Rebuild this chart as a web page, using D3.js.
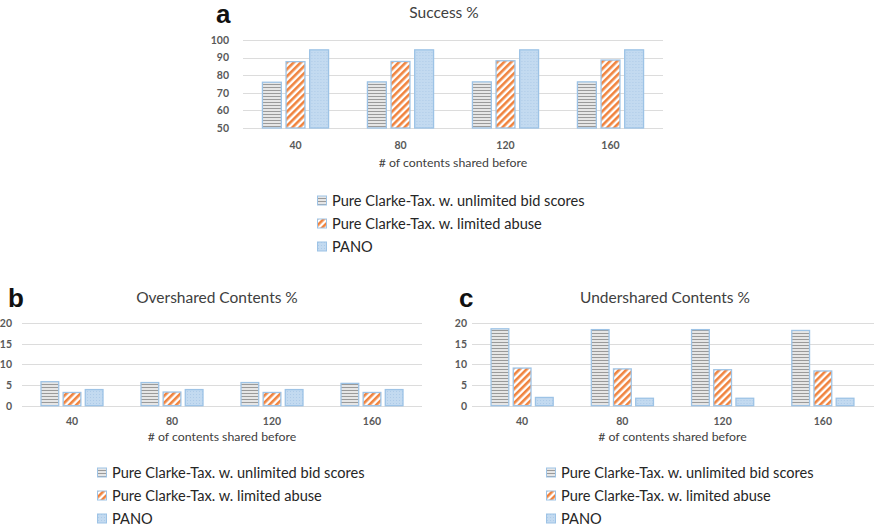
<!DOCTYPE html>
<html>
<head>
<meta charset="utf-8">
<script src="https://cdn.jsdelivr.net/npm/d3@7"></script>
<style>
  body { margin: 0; background: #fff; }
  svg { display: block; }
  text { font-family: Lato, "Open Sans", sans-serif; }
</style>
</head>
<body>
<script>
// categories and series
var categories = ["40", "80", "120", "160"];
var seriesNames = [
    "Pure Clarke-Tax. w. unlimited bid scores",
    "Pure Clarke-Tax. w. limited abuse",
    "PANO"
];

// values, one array per series
var successUnlimited = [76, 76.2, 76.2, 76.2];
var successLimited = [87.7, 87.8, 88.2, 88.6];
var successPano = [94.4, 94.4, 94.4, 94.4];

var overUnlimited = [5.8, 5.6, 5.6, 5.4];
var overLimited = [3.2, 3.3, 3.2, 3.2];
var overPano = [3.9, 3.9, 3.9, 3.9];

var underUnlimited = [18.6, 18.4, 18.4, 18.2];
var underLimited = [9.1, 8.9, 8.7, 8.4];
var underPano = [2.0, 1.8, 1.8, 1.8];

var successTicks = [50, 60, 70, 80, 90, 100];
var contentTicks = [0, 5, 10, 15, 20];

window.onload = () => {
    var svg = d3.select("body").append("svg")
        .attr("width", 874)
        .attr("height", 531);

    var defs = svg.append("defs");

    // horizontal stripes
    var p1 = defs.append("pattern")
        .attr("id", "patGray")
        .attr("patternUnits", "userSpaceOnUse")
        .attr("width", 4).attr("height", 3);
    p1.append("rect").attr("width", 4).attr("height", 3).attr("fill", "#e6e6e6");
    p1.append("rect").attr("y", 0).attr("width", 4).attr("height", 1).attr("fill", "#9a9a9a");

    // diagonal stripes
    var p2 = defs.append("pattern")
        .attr("id", "patOrange")
        .attr("patternUnits", "userSpaceOnUse")
        .attr("width", 5).attr("height", 5)
        .attr("patternTransform", "rotate(45)");
    p2.append("rect").attr("width", 5).attr("height", 5).attr("fill", "#fff");
    p2.append("rect").attr("width", 2.6).attr("height", 5).attr("fill", "#f0833e");

    // light blue with small dots
    var p3 = defs.append("pattern")
        .attr("id", "patBlue")
        .attr("patternUnits", "userSpaceOnUse")
        .attr("width", 3).attr("height", 3);
    p3.append("rect").attr("width", 3).attr("height", 3).attr("fill", "#c3daf0");
    p3.append("rect").attr("x", 1).attr("y", 1).attr("width", 1).attr("height", 1).attr("fill", "#aecbe8");

    var fills = ["url(#patGray)", "url(#patOrange)", "url(#patBlue)"];
    var edge = "#9dc3e6";

    function drawPanel(cfg) {
        var x0 = d3.scaleBand()
            .domain(categories)
            .range([cfg.left, cfg.right])
            .paddingInner(cfg.pad)
            .paddingOuter(cfg.pad / 2);
        var x1 = d3.scaleBand()
            .domain(d3.range(seriesNames.length))
            .range([0, x0.bandwidth()])
            .paddingInner(0.2);
        var y = d3.scaleLinear()
            .domain(cfg.domain)
            .range([cfg.bottom, cfg.top]);

        var g = svg.append("g");

        // gridlines
        g.append("g")
            .selectAll("line")
            .data(cfg.ticks)
            .enter()
            .append("line")
            .attr("x1", cfg.left)
            .attr("x2", cfg.gridRight || cfg.right)
            .attr("y1", d => Math.round(y(d)) + 0.5)
            .attr("y2", d => Math.round(y(d)) + 0.5)
            .attr("stroke", "#dcdcdc")
            .attr("stroke-width", 1);

        // y tick labels
        var yAxis = d3.axisLeft(y).tickValues(cfg.ticks).tickSize(0).tickPadding(cfg.left - cfg.labelRight);
        var ya = g.append("g")
            .attr("transform", "translate(" + cfg.left + ",0)")
            .call(yAxis);
        ya.select(".domain").remove();
        ya.selectAll("text")
            .style("font-family", "Lato, sans-serif")
            .style("font-size", "10.5px")
            .style("font-weight", "bold")
            .attr("fill", "#595959");

        // x tick labels
        var xAxis = d3.axisBottom(x0).tickSize(0).tickPadding(cfg.catPad);
        var xa = g.append("g")
            .attr("transform", "translate(0," + cfg.bottom + ")")
            .call(xAxis);
        xa.select(".domain").remove();
        xa.selectAll("text")
            .style("font-family", "Lato, sans-serif")
            .style("font-size", "10.5px")
            .style("font-weight", "bold")
            .attr("fill", "#595959");

        // bars
        var rows = categories.map((c, i) => ({
            cat: c,
            vals: cfg.series.map((s, k) => ({ k: k, v: s[i] }))
        }));
        g.append("g")
            .selectAll("g")
            .data(rows)
            .enter()
            .append("g")
            .attr("transform", d => "translate(" + x0(d.cat) + ",0)")
            .selectAll("rect")
            .data(d => d.vals)
            .enter()
            .append("rect")
            .attr("x", d => x1(d.k))
            .attr("y", d => y(d.v))
            .attr("width", x1.bandwidth())
            .attr("height", d => y(cfg.domain[0]) - y(d.v))
            .attr("fill", d => fills[d.k])
            .attr("stroke", edge)
            .attr("stroke-width", 1.3);

        // panel letter
        g.append("text")
            .attr("x", cfg.letterX)
            .attr("y", cfg.letterY)
            .style("font-family", "'Liberation Sans', Arial, sans-serif")
            .style("font-size", "26px")
            .style("font-weight", "bold")
            .attr("fill", "#111")
            .text(cfg.letter);

        // title
        g.append("text")
            .attr("x", cfg.titleX)
            .attr("y", cfg.titleY)
            .attr("text-anchor", "middle")
            .style("font-size", "15.5px")
            .attr("fill", "#404040")
            .text(cfg.title);

        // axis title
        g.append("text")
            .attr("x", (cfg.left + cfg.right) / 2)
            .attr("y", cfg.axisTitleY)
            .attr("text-anchor", "middle")
            .style("font-size", "12.3px")
            .attr("fill", "#404040")
            .text("# of contents shared before");

        // legend
        var lg = g.append("g")
            .selectAll("g")
            .data(seriesNames)
            .enter()
            .append("g")
            .attr("transform", (d, i) => "translate(" + cfg.legendX + "," + (cfg.legendY + i * cfg.legendGap) + ")");
        lg.append("rect")
            .attr("x", 0.5)
            .attr("y", -5)
            .attr("width", 9)
            .attr("height", 9)
            .attr("fill", (d, i) => fills[i])
            .attr("stroke", edge)
            .attr("stroke-width", 1);
        lg.append("text")
            .attr("x", 15)
            .attr("y", 0)
            .attr("dy", "0.35em")
            .style("font-size", "14.6px")
            .attr("fill", "#262626")
            .text(d => d);
    }

    drawPanel({
        series: [successUnlimited, successLimited, successPano],
        domain: [50, 100], ticks: successTicks,
        left: 243, right: 663, top: 40, bottom: 128, pad: 0.37,
        labelRight: 229, catPad: 14,
        letter: "a", letterX: 216, letterY: 23,
        title: "Success %", titleX: 444, titleY: 18,
        axisTitleY: 167,
        legendX: 317, legendY: 201, legendGap: 23
    });

    drawPanel({
        series: [overUnlimited, overLimited, overPano],
        domain: [0, 20], ticks: contentTicks,
        left: 22, right: 422, top: 323, bottom: 405.7, pad: 0.38,
        labelRight: 12, catPad: 12,
        letter: "b", letterX: 8, letterY: 307,
        title: "Overshared Contents %", titleX: 217, titleY: 303,
        axisTitleY: 441,
        legendX: 97, legendY: 473, legendGap: 23
    });

    drawPanel({
        series: [underUnlimited, underLimited, underPano],
        domain: [0, 20], ticks: contentTicks,
        left: 472, right: 873, gridRight: 874, top: 323, bottom: 405.7, pad: 0.38,
        labelRight: 467, catPad: 12,
        letter: "c", letterX: 459, letterY: 307,
        title: "Undershared Contents %", titleX: 665, titleY: 303,
        axisTitleY: 441,
        legendX: 546, legendY: 473, legendGap: 23
    });
};
</script>
</body>
</html>
